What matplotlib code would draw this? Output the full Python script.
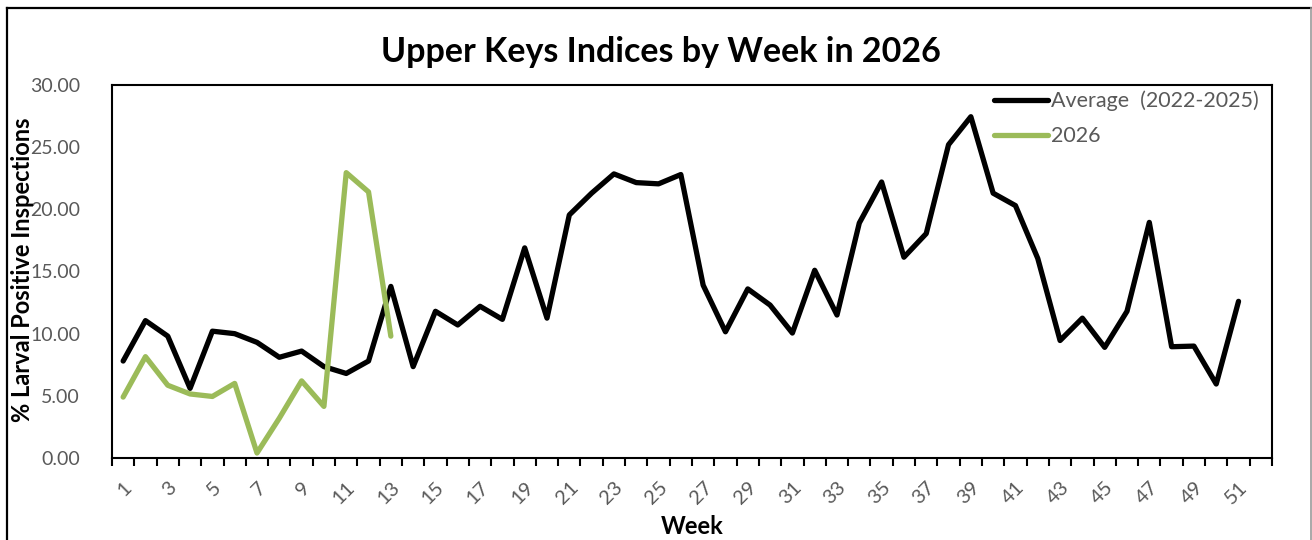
import matplotlib
matplotlib.use("Agg")
import matplotlib.pyplot as plt
from matplotlib.lines import Line2D
import numpy as np

plt.rcParams['font.family'] = ['Lato', 'DejaVu Sans']

weeks = list(range(1, 53))
avg_values = [7.8, 11.05, 9.8, 5.6, 10.2, 10.0, 9.3, 8.1, 8.6, 7.35,
              6.8, 7.8, 13.8, 7.35, 11.8, 10.7, 12.2, 11.15, 16.9, 11.25,
              19.55, 21.3, 22.85, 22.15, 22.05, 22.8, 13.9, 10.15, 13.6, 12.3,
              10.05, 15.1, 11.5, 18.9, 22.2, 16.15, 18.05, 25.2, 27.45, 21.3,
              20.3, 16.05, 9.45, 11.25, 8.9, 11.8, 18.95, 8.95, 9.0, 5.95,
              12.6]
cur_values = [4.9, 8.15, 5.85, 5.15, 4.95, 6.0, 0.4, 3.2, 6.2, 4.15,
              22.95, 21.4, 9.8]
tick_labels = [str(w) for w in weeks if w % 2 == 1]
series_names = ["Average  (2022-2025)", "2026"]
title = "Upper Keys Indices by Week in 2026"

W, H = 1312, 540
fig = plt.figure(figsize=(W / 100, H / 100), dpi=100)
ax = fig.add_axes([112 / W, 1 - 458 / H, (1272 - 112) / W, (458 - 85) / H])

gray = '#595959'
green = '#9BBB59'
ax.plot(range(1, len(avg_values) + 1), avg_values, color='black', lw=3.8,
        solid_joinstyle='round', solid_capstyle='round', label=series_names[0], zorder=3)
ax.plot(range(1, len(cur_values) + 1), cur_values, color=green, lw=3.8,
        solid_joinstyle='round', solid_capstyle='round', label=series_names[1], zorder=4)

ax.set_xlim(0.5, len(weeks) + 0.5)
ax.set_ylim(0, 30)
ax.set_yticks(np.arange(0, 30.01, 5))
ax.set_yticklabels([f"{v:.2f}" for v in np.arange(0, 30.01, 5)])
ax.tick_params(axis='y', length=0, pad=23, labelsize=14, labelcolor=gray)

ax.set_xticks(np.arange(0.5, len(weeks) + 1, 1))
ax.set_xticklabels([])
ax.tick_params(axis='x', which='major', length=6, width=1.5, direction='out', color='black')
ax.set_xticks([w for w in weeks if w % 2 == 1], minor=True)
ax.set_xticklabels(tick_labels, minor=True, rotation=45, ha='right',
                   rotation_mode='anchor', fontsize=14.5, color=gray)
ax.tick_params(axis='x', which='minor', length=0, pad=15)

for s in ax.spines.values():
    s.set_linewidth(1.5)
    s.set_color('black')

ax.set_xlabel("Week", fontsize=17, fontweight='bold')
ax.xaxis.set_label_coords((692 - 112) / 1160, -(527 - 458) / 373)
ax.xaxis.label.set_va('center')
ax.set_ylabel("% Larval Positive Inspections", fontsize=17, fontweight='bold')
ax.yaxis.set_label_coords((22 - 112) / 1160, (458 - 270) / 373)
ax.yaxis.label.set_va('center')

fig.text(661 / W, 1 - 52 / H, title, ha='center', va='center', fontsize=24.5, fontweight='bold')

leg = ax.legend(loc='upper right', frameon=False, fontsize=15.5, handlelength=2.5,
                handletextpad=0.15, labelspacing=0.7, borderaxespad=0.2,
                bbox_to_anchor=(1.0, 1.02))
for t in leg.get_texts():
    t.set_color(gray)

# outer chart frame
fig.add_artist(Line2D([7 / W, 7 / W], [0, 1 - 8 / H], color='black', lw=1.6, transform=fig.transFigure))
fig.add_artist(Line2D([7 / W, 1311 / W], [1 - 8 / H, 1 - 8 / H], color='black', lw=1.6, transform=fig.transFigure))
fig.add_artist(Line2D([1311 / W, 1311 / W], [0, 1 - 8 / H], color='#999999', lw=1.2, transform=fig.transFigure))

fig.savefig("out.png", dpi=100, facecolor='white')
